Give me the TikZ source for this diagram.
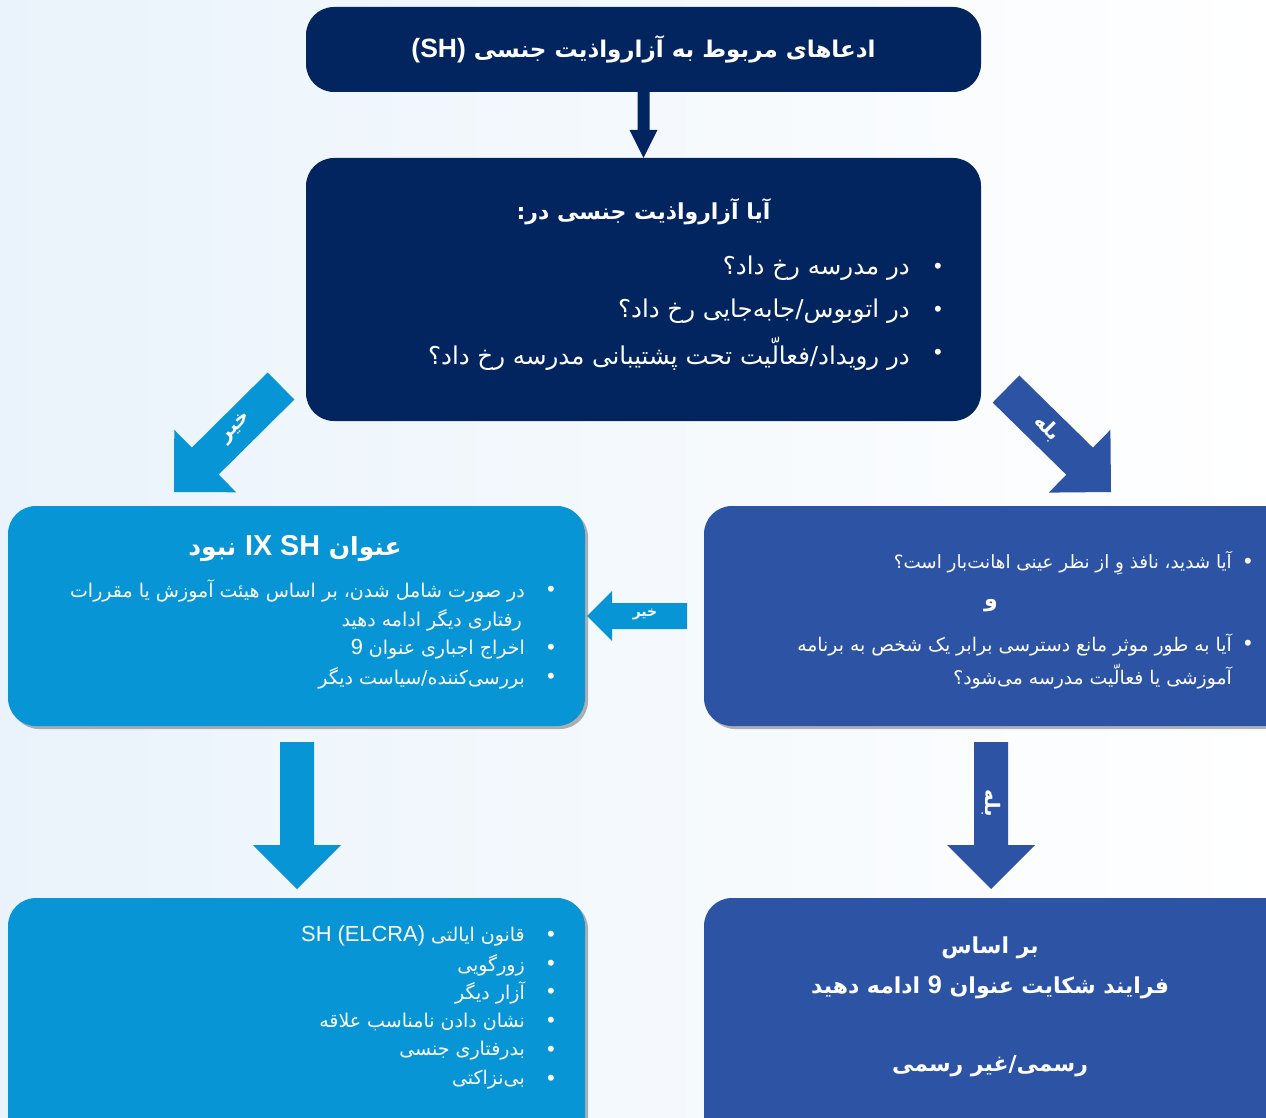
\documentclass[tikz,border=0pt]{standalone}
\usepackage{fontspec}
\setmainfont{Liberation Sans}
\newfontfamily\arabicfont[Script=Arabic]{DejaVu Sans}
\newfontfamily\latinfont[Scale=1.15]{Liberation Sans}
\TeXXeTstate=1
\usetikzlibrary{calc,shadows}
\definecolor{navy}{HTML}{03255F}
\definecolor{lblue}{HTML}{0895D5}
\definecolor{mblue}{HTML}{2D54A4}
\definecolor{bgblue}{HTML}{EAF3FB}
\newcommand\fa[1]{{\arabicfont\beginR #1\endR}}
\newcommand\lt[1]{\beginL{\latinfont #1}\endL{}}
\newcommand\fsz[1]{\fontsize{#1}{#1}\selectfont}
\newcommand\zw{^^^^200c}
\newcommand\blockarrow[6]{%
  \coordinate (bah) at ($(#3)!#6!(#2)$);
  \fill[#1] ($(#2)!#4!90:(#3)$) -- ($(bah)!#4!90:(#3)$) -- ($(bah)!#5!90:(#3)$) -- (#3)
     -- ($(bah)!#5!-90:(#3)$) -- ($(bah)!#4!-90:(#3)$) -- ($(#2)!#4!-90:(#3)$) -- cycle;}
\begin{document}
\begin{tikzpicture}[x=1pt,y=-1pt,
  box/.style={rectangle, rounded corners=28pt, inner sep=0pt, draw=none},
  shadowed/.style={drop shadow={shadow xshift=3pt, shadow yshift=-3pt, opacity=0.4, fill=black!75}},
  txt/.style={text=white, inner sep=0pt},
  bul/.style={text=white, inner sep=0pt, font=\fsz{22}},
  rline/.style={text=white, inner sep=0pt, anchor=east},
  lab/.style={text=white, inner sep=0pt, font=\bfseries\fsz{20}}]
\useasboundingbox (0,0) rectangle (1266,1118);
\clip (0,0) rectangle (1266,1118);
\shade[left color=bgblue, right color=white] (0,0) rectangle (1266,1118);

% boxes
\node[box, fill=navy, minimum width=675pt, minimum height=85pt] (top) at (643.5,49.5) {};
\node[box, fill=navy, minimum width=675pt, minimum height=263pt] (q) at (643.5,289.5) {};
\node[box, shadowed, fill=lblue, minimum width=577pt, minimum height=220pt] (nosh) at (296.5,616) {};
\node[box, shadowed, fill=mblue, minimum width=596pt, minimum height=220pt] (crit) at (1002,616) {};
\node[box, shadowed, fill=lblue, minimum width=577pt, minimum height=262pt] (other) at (296.5,1029) {};
\node[box, shadowed, fill=mblue, minimum width=596pt, minimum height=262pt] (formal) at (1002,1029) {};

% top title
\node[txt, font=\bfseries\fsz{23}] (toptxt) at (top.center) {\fa{ادعاهای مربوط به آزارواذیت جنسی \lt{(SH)}}};

% question box
\node[txt, font=\bfseries\fsz{22}] (qt) at (643.5,212) {\fa{آیا آزارواذیت جنسی در:}};
\node[bul] (qb1) at (938,268) {•};
\node[bul] (qb2) at (938,311) {•};
\node[bul] (qb3) at (938,354) {•};
\node[rline, font=\fsz{24.5}] (q1) at (910,268) {\fa{در مدرسه رخ داد؟}};
\node[rline, font=\fsz{24.5}] (q2) at (910,311) {\fa{در اتوبوس/جابه\zw جایی رخ داد؟}};
\node[rline, font=\fsz{24.5}] (q3) at (910,354) {\fa{در رویداد/فعالّیت تحت پشتیبانی مدرسه رخ داد؟}};

% not SH box
\node[txt, font=\bfseries\fsz{25}] (nt) at (295,549) {\fa{عنوان \lt{IX SH} نبود}};
\node[bul] (nb1) at (551,591) {•};
\node[bul] (nb2) at (551,649) {•};
\node[bul] (nb3) at (551,678) {•};
\node[rline, font=\fsz{19}] (n1) at (525,591) {\fa{در صورت شامل شدن، بر اساس هیئت آموزش یا مقررات}};
\node[rline, font=\fsz{19}] (n1b) at (522,620) {\fa{رفتاری دیگر ادامه دهید}};
\node[rline, font=\fsz{19}] (n2) at (525,649) {\fa{اخراج اجباری عنوان \lt{9}}};
\node[rline, font=\fsz{19}] (n3) at (525,678) {\fa{بررسی\zw کننده/سیاست دیگر}};

% criteria box
\node[bul] (cb1) at (1248,563) {•};
\node[bul] (cb2) at (1248,645) {•};
\node[rline, font=\fsz{18.3}] (c1) at (1232,563) {\fa{آیا شدید، نافذ وِ از نظر عینی اهانت\zw بار است؟}};
\node[txt, font=\bfseries\fsz{22}] (cand) at (991,606) {\fa{و}};
\node[rline, font=\fsz{18.8}] (c2) at (1232,645) {\fa{آیا به طور موثر مانع دسترسی برابر یک شخص به برنامه}};
\node[rline, font=\fsz{18.8}] (c2b) at (1232,677) {\fa{آموزشی یا فعالّیت مدرسه می\zw شود؟}};

% other box
\node[bul] (ob1) at (551,936) {•};
\node[bul] (ob2) at (551,965) {•};
\node[bul] (ob3) at (551,993) {•};
\node[bul] (ob4) at (551,1022) {•};
\node[bul] (ob5) at (551,1051) {•};
\node[bul] (ob6) at (551,1080) {•};
\node[rline, font=\fsz{19}] (o1) at (525,936) {\fa{قانون ایالتی \lt{SH (ELCRA)}}};
\node[rline, font=\fsz{19}] (o2) at (525,965) {\fa{زورگویی}};
\node[rline, font=\fsz{19}] (o3) at (525,993) {\fa{آزار دیگر}};
\node[rline, font=\fsz{19}] (o4) at (525,1022) {\fa{نشان دادن نامناسب علاقه}};
\node[rline, font=\fsz{19}] (o5) at (525,1051) {\fa{بدرفتاری جنسی}};
\node[rline, font=\fsz{19}] (o6) at (525,1080) {\fa{بی\zw نزاکتی}};

% formal box
\node[txt, font=\bfseries\fsz{22}] (f1) at (990,948) {\fa{بر اساس}};
\node[txt, font=\bfseries\fsz{22}] (f2) at (990,987) {\fa{فرایند شکایت عنوان \lt{9} ادامه دهید}};
\node[txt, font=\bfseries\fsz{22}] (f3) at (990,1066) {\fa{رسمی/غیر رسمی}};

% connectors
\blockarrow{navy}{top.south}{q.north}{6pt}{14pt}{28pt}
\coordinate (ld1) at (281,386); \coordinate (ld2) at (174,492);
\blockarrow{lblue}{ld1}{ld2}{19pt}{44pt}{44pt}
\coordinate (rd1) at (1006,389); \coordinate (rd2) at (1111,492);
\blockarrow{mblue}{rd1}{rd2}{19pt}{44pt}{44pt}
\coordinate (h1) at (687,616); \coordinate (h2) at (587,616);
\blockarrow{lblue}{h1}{h2}{13pt}{25pt}{25pt}
\coordinate (dl1) at (297,742); \coordinate (dl2) at (297,889);
\blockarrow{lblue}{dl1}{dl2}{17pt}{44pt}{44pt}
\coordinate (dr1) at (991,742); \coordinate (dr2) at (991,889);
\blockarrow{mblue}{dr1}{dr2}{17pt}{44pt}{44pt}

% connector labels
\node[lab, rotate=45] (lno) at (236,428) {\fa{خیر}};
\node[lab, rotate=-45] (lyes) at (1047,428) {\fa{بله}};
\node[lab, font=\bfseries\fsz{14}] (lno2) at (645,614) {\fa{خیر}};
\node[lab, rotate=-90] (lyes2) at (991,803) {\fa{بله}};
\end{tikzpicture}
\end{document}
